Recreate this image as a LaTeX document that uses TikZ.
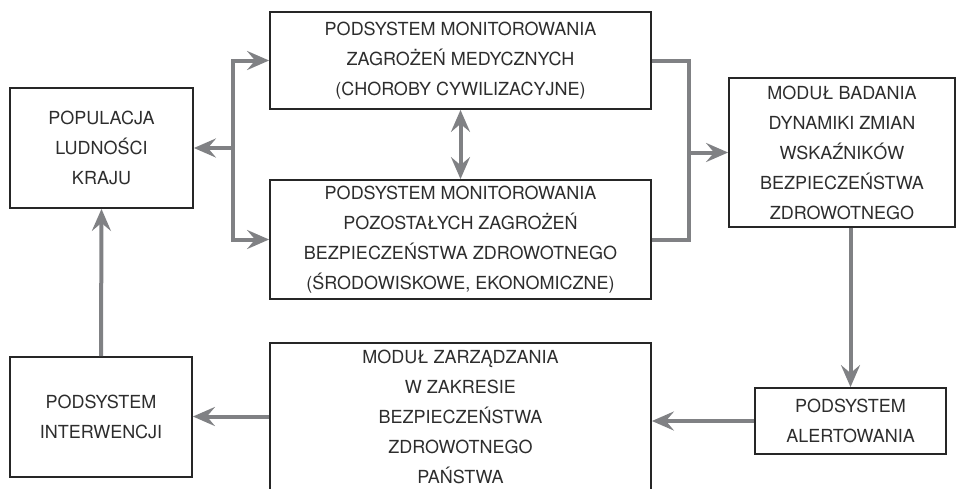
\documentclass[tikz,border=0pt]{standalone}
\usepackage{fontspec}
\setmainfont{TeX Gyre Heros}
\usetikzlibrary{arrows.meta}
\definecolor{strzalka}{RGB}{128,129,132}
\definecolor{tekst}{RGB}{45,45,45}
\begin{document}
\begin{tikzpicture}[x=1pt,y=-1pt,
	blok/.style={draw=black!85,line width=1.8pt,inner sep=0pt,align=center,text=tekst,
		font=\fontsize{18}{30}\selectfont},
	linia/.style={draw=strzalka,line width=4pt},
	strz/.style={linia,-{Stealth[length=22pt,width=19pt,inset=8pt]}},
	strz2/.style={linia,{Stealth[length=22pt,width=19pt,inset=8pt]}-{Stealth[length=22pt,width=19pt,inset=8pt]}}]
	\useasboundingbox (0,0) rectangle (965,488);
	\node[blok,minimum width=183pt,minimum height=120pt] (pop) at (101.5,148) {POPULACJA\\LUDNOŚCI\\KRAJU};
	\node[blok,minimum width=381pt,minimum height=97pt] (med) at (460.5,60.5) {PODSYSTEM MONITOROWANIA\\ZAGROŻEŃ MEDYCZNYCH\\(CHOROBY CYWILIZACYJNE)};
	\node[blok,minimum width=381pt,minimum height=119pt] (poz) at (460.5,239.5) {PODSYSTEM MONITOROWANIA\\POZOSTAŁYCH ZAGROŻEŃ\\BEZPIECZEŃSTWA ZDROWOTNEGO\\(ŚRODOWISKOWE, EKONOMICZNE)};
	\node[blok,minimum width=226pt,minimum height=149pt] (bad) at (842,152.5) {MODUŁ BADANIA\\DYNAMIKI ZMIAN\\WSKAŹNIKÓW\\BEZPIECZEŃSTWA\\ZDROWOTNEGO};
	\node[blok,minimum width=191pt,minimum height=66pt] (alert) at (850.5,421) {PODSYSTEM\\ALERTOWANIA};
	\node[blok,minimum width=381pt,minimum height=147pt] (zarz) at (460.5,416.5) {MODUŁ ZARZĄDZANIA\\W ZAKRESIE\\BEZPIECZEŃSTWA\\ZDROWOTNEGO\\PAŃSTWA};
	\node[blok,minimum width=182pt,minimum height=120pt] (inter) at (101,417) {PODSYSTEM\\INTERWENCJI};
	\coordinate (busl) at (233,148);
	\coordinate (busr) at (689,152.5);
	% rozgalezienia
	\draw[strz] (busl) -- (pop.east);
	\draw[strz] (busl) |- (med.west);
	\draw[strz] (busl) |- (poz.west);
	\draw[strz2] (med.south) -- (poz.north);
	\draw[linia] (med.east) -| (busr);
	\draw[linia] (poz.east) -| (busr);
	\draw[strz] (busr) -- (bad.west);
	% petla w dol i z powrotem
	\draw[strz] (bad.south -| alert.north) -- (alert.north);
	\draw[strz] (alert.west) -- (alert.west -| zarz.east);
	\draw[strz] (zarz.west) -- (zarz.west -| inter.east);
	\draw[strz] (inter.north) -- (pop.south);
\end{tikzpicture}
\end{document}
